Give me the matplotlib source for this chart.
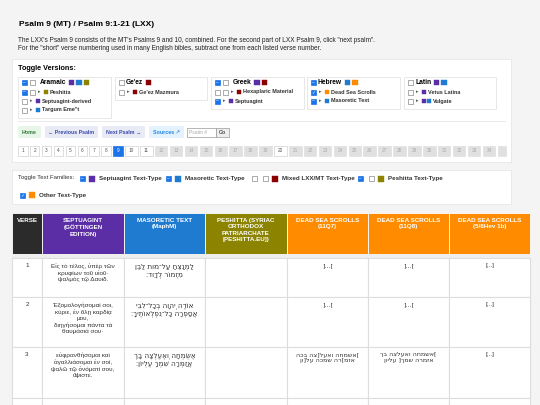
import matplotlib
matplotlib.use("Agg")
import matplotlib.pyplot as plt
from matplotlib.patches import Rectangle, FancyBboxPatch

plt.rcParams['font.family'] = ['Liberation Sans', 'DejaVu Sans', 'Noto Sans']

# ---- data ----
TITLE = "Psalm 9 (MT) / Psalm 9:1-21 (LXX)"
INTRO = ["The LXX's Psalm 9 consists of the MT's Psalms 9 and 10, combined. For the second part of LXX Psalm 9, click \"next psalm\".",
         "For the \"short\" verse numbering used in many English bibles, subtract one from each listed verse number."]
PURPLE, BLUE, OLIVE, RED, ORANGE, DARK = "#5b2ea6", "#1f7bd0", "#8c8400", "#8b0000", "#ff8c00", "#2b2b2b"

groups = [
    ("Aramaic", [PURPLE, BLUE, OLIVE], [("Peshitta", [OLIVE]), ("Septuagint-derived", [PURPLE]), ("Targum Eme\"t", [BLUE])]),
    ("Ge'ez", [RED], [("Ge'ez Mazmura", [RED])]),
    ("Greek", [PURPLE, RED], [("Hexaplaric Material", [RED]), ("Septuagint", [PURPLE])]),
    ("Hebrew", [BLUE, ORANGE], [("Dead Sea Scrolls", [ORANGE]), ("Masoretic Text", [BLUE])]),
    ("Latin", [PURPLE, BLUE], [("Vetus Latina", [PURPLE]), ("Vulgate", [PURPLE, BLUE])]),
]
nav_buttons = [("Home", "#e8f5e9", "#2e7d32"), ("\u2190 Previous Psalm", "#e8eaf6", "#3949ab"),
               ("Next Psalm \u2192", "#e8eaf6", "#3949ab"), ("Sources \u2197", "#e3f2fd", "#1e88e5")]
psalm_pages = list(range(1, 37))
families = [("Septuagint Text-Type", PURPLE), ("Masoretic Text-Type", BLUE),
            ("Mixed LXX/MT Text-Type", RED), ("Peshitta Text-Type", OLIVE), ("Other Text-Type", ORANGE)]

headers = ["VERSE", "SEPTUAGINT\n(GÖTTINGEN\nEDITION)", "MASORETIC TEXT\n(MaphM)",
           "PESHITTA (SYRIAC\nORTHODOX\nPATRIARCHATE\n[PESHITTA.EU])",
           "DEAD SEA SCROLLS\n(11Q7)", "DEAD SEA SCROLLS\n(11Q8)", "DEAD SEA SCROLLS\n(5/6Hev 1b)"]
header_colors = [DARK, PURPLE, BLUE, OLIVE, ORANGE, ORANGE, ORANGE]
verses = ["1", "2", "3"]
septuagint = ["Εἰς τὸ τέλος, ὑπὲρ τῶν\nκρυφίων τοῦ υἱοῦ·\nψαλμὸς τῷ Δαυιδ.",
              "Ἐξομολογήσομαί σοι,\nκύριε, ἐν ὅλῃ καρδίᾳ\nμου,\nδιηγήσομαι πάντα τὰ\nθαυμάσιά σου·",
              "εὐφρανθήσομαι καὶ\nἀγαλλιάσομαι ἐν σοί,\nψαλῶ τῷ ὀνόματί σου,\nὕψιστε."]
masoretic = ["לַמְנַצֵּחַ עַל־מוּת לַבֵּן\nמִזְמוֹר לְדָוִד׃",
             "אוֹדֶה יְהוָה בְּכָל־לִבִּי\nאֲסַפְּרָה כָּל־נִפְלְאוֹתֶיךָ׃",
             "אֶשְׂמְחָה וְאֶעֶלְצָה בָךְ\nאֲזַמְּרָה שִׁמְךָ עֶלְיוֹן׃"]
# Syriac script: no installed font has these glyphs, so the cells stay empty
peshitta = ["", "", ""]
dss_11q7 = ["[...]", "[...]", "[אשמחה ואעל]צה בכה\nאזמ[רה שמכה על]ון"]
dss_11q8 = ["[...]", "[...]", "[אשמחה ואעלצה בך\nאזמרה שמך] עליון"]
dss_5_6hev = ["[...]", "[...]", "[...]"]

def heb(s):
    # matplotlib has no bidi support, so reverse each line
    return "\n".join(line[::-1] for line in s.split("\n"))

fig = plt.figure(figsize=(5.4, 4.05), dpi=100)
fig.patch.set_facecolor("#f4f4f4")
ax = fig.add_axes([0, 0, 1, 1])
ax.set_xlim(0, 540)
ax.set_ylim(405, 0)
ax.axis("off")
renderer = fig.canvas.get_renderer()

def box(x, y, w, h, fc, ec="#e2e2e2", lw=0.6, z=1):
    ax.add_patch(Rectangle((x, y), w, h, facecolor=fc, edgecolor=ec, lw=lw, zorder=z))

def chk(x, y, state, s=5):
    if state == "off":
        box(x, y, s, s, "white", "#888888", 0.5, 4)
    else:
        box(x, y, s, s, "#1a73e8", "#1a73e8", 0.5, 4)
        ax.text(x + s / 2, y + s / 2, "\u2713" if state == "tick" else "\u2013", color="white",
                fontsize=3.5, ha="center", va="center", zorder=5)

def sw(x, y, c, s=5.5):
    box(x, y, s, s, c, c, 0.3, 4)

def text_end(t):
    bb = t.get_window_extent(renderer)
    return bb.x1

ax.text(19, 25, TITLE, fontsize=6, fontweight="bold", va="center")
ax.text(18, 41, INTRO[0], fontsize=4.7, va="center", color="#222222")
ax.text(18, 48, INTRO[1], fontsize=4.7, va="center", color="#222222")

# toggle versions panel
box(12, 59, 499, 103, "white", "#e6e6e6")
ax.text(18, 69, "Toggle Versions:", fontsize=5.2, fontweight="bold", va="center")
gx = [18, 115, 211, 307, 404]
gw = [93, 92, 93, 93, 92]
gh = [41, 23, 32, 32, 32]
states = [["on", "on", "off", "off"], ["off", "off"], ["on", "off", "on"], ["on", "tick", "on"], ["off", "off", "off"]]
for gi, (name, cols, subs) in enumerate(groups):
    x0 = gx[gi]
    box(x0, 77, gw[gi], gh[gi], "white", "#e4e4e4", 0.6, 2)
    chk(x0 + 4, 80, states[gi][0])
    tx = x0 + 11
    if name in ("Aramaic", "Greek"):
        chk(x0 + 12, 80, "off")
        tx = x0 + 22
    t = ax.text(tx, 82, name, fontsize=4.8, fontweight="bold", va="center", zorder=5)
    cx = text_end(t) + 2.5
    for c in cols:
        sw(cx, 79.5, c)
        cx += 7.5
    for si, (sname, scols) in enumerate(subs):
        y = 92 + si * 9
        chk(x0 + 4, y - 2.5, states[gi][si + 1])
        extra = 8 if name in ("Aramaic", "Greek") and si == 0 else 0
        if extra:
            chk(x0 + 12, y - 2.5, "off")
        ax.text(x0 + 12 + extra, y, "\u25b8", fontsize=3.5, va="center", color="#555555", zorder=5)
        sx = x0 + 18 + extra
        for c in scols:
            sw(sx, y - 2, c, 4)
            sx += 5
        ax.text(sx + 1, y, sname, fontsize=4.0, fontweight="bold", va="center", color="#333333", zorder=5)

ax.plot([18, 505], [121, 121], color="#e6e6e6", lw=0.6, zorder=2)
bx = [18, 45, 102, 149]
bw = [23, 53, 43, 35]
for (lab, fc, tc), x0, w in zip(nav_buttons, bx, bw):
    ax.add_patch(FancyBboxPatch((x0, 126), w, 12, boxstyle="round,pad=0,rounding_size=1.5",
                                facecolor=fc, edgecolor="none", zorder=3))
    ax.text(x0 + w / 2, 132, lab, fontsize=3.8, fontweight="bold", color=tc, ha="center", va="center", zorder=4)
box(187, 128, 29, 9, "white", "#999999", 0.5, 3)
ax.text(189, 132.5, "Psalm #", fontsize=3.6, color="#aaaaaa", va="center", zorder=4)
box(216, 128, 13, 9, "#eeeeee", "#999999", 0.5, 3)
ax.text(222.5, 132.5, "Go", fontsize=3.8, ha="center", va="center", zorder=4)

x = 18
for p in psalm_pages:
    w = 9.5 if p < 10 else 12.5
    if x + w > 506:
        w = 506 - x
    if p == 9:
        fc, ec, tc = "#1a73e8", "#1a73e8", "white"
    elif p in (1, 2, 3, 4, 5, 6, 7, 8, 10, 11, 20):
        fc, ec, tc = "white", "#d0d0d0", "#555555"
    else:
        fc, ec, tc = "#e0e0e0", "#e0e0e0", "#aaaaaa"
    box(x, 146, w, 9.5, fc, ec, 0.5, 3)
    if x + w < 505:
        ax.text(x + w / 2, 151, str(p), fontsize=3.4, ha="center", va="center", color=tc, zorder=4)
    x += w + 2.4
    if x >= 506:
        break

# toggle text families
box(12, 170, 499, 34, "white", "#e6e6e6")
ax.text(18, 178, "Toggle Text Families:", fontsize=4.3, va="center", color="#333333")
fam_x = [80, 166, 252, 358]
fam_state = ["on", "on", "off", "on"]
for i, (lab, c) in enumerate(families[:4]):
    x0 = fam_x[i]
    chk(x0, 176, fam_state[i])
    sx = x0 + 9
    if i in (2, 3):
        chk(x0 + 11, 176, "off")
        sx = x0 + 20
    sw(sx, 175.5, c, 6)
    ax.text(sx + 10, 178.5, lab, fontsize=4.5, fontweight="bold", va="center", color="#333333")
chk(20, 192.5, "tick")
sw(29, 192, families[4][1], 6)
ax.text(39, 195, families[4][0], fontsize=4.5, fontweight="bold", va="center", color="#333333")

# table
col_x = [12, 42, 124, 205, 287, 368, 449, 530]
row_y = [213, 254, 258, 297, 347, 398, 405]
for ci, (h, c) in enumerate(zip(headers, header_colors)):
    box(col_x[ci], row_y[0], col_x[ci + 1] - col_x[ci], row_y[1] - row_y[0], c, "white", 0.6, 2)
    ax.text((col_x[ci] + col_x[ci + 1]) / 2, 218, h, fontsize=4.5, fontweight="bold", color="white",
            ha="center", va="top", linespacing=1.35, zorder=3)
box(12, 254, 518, 4, "#eeeeee", "none", 0, 2)
columns = [verses, septuagint, [heb(s) for s in masoretic], peshitta,
           [heb(s) for s in dss_11q7], [heb(s) for s in dss_11q8], dss_5_6hev]
for ri in range(4):
    y0 = row_y[ri + 2]
    y1 = row_y[ri + 3]
    for ci in range(7):
        box(col_x[ci], y0, col_x[ci + 1] - col_x[ci], y1 - y0, "white", "#dddddd", 0.8, 2)
        if ri < 3 and columns[ci][ri]:
            fs = 5.2 if ci == 2 else 4.6
            ax.text((col_x[ci] + col_x[ci + 1]) / 2, y0 + 5, columns[ci][ri], fontsize=fs, ha="center", va="top",
                    color="#333333", linespacing=1.3, zorder=3,
                    family=['DejaVu Sans', 'Noto Sans'] if ci in (2, 4, 5) else None)

fig.savefig("out.png", dpi=100, facecolor=fig.get_facecolor())
